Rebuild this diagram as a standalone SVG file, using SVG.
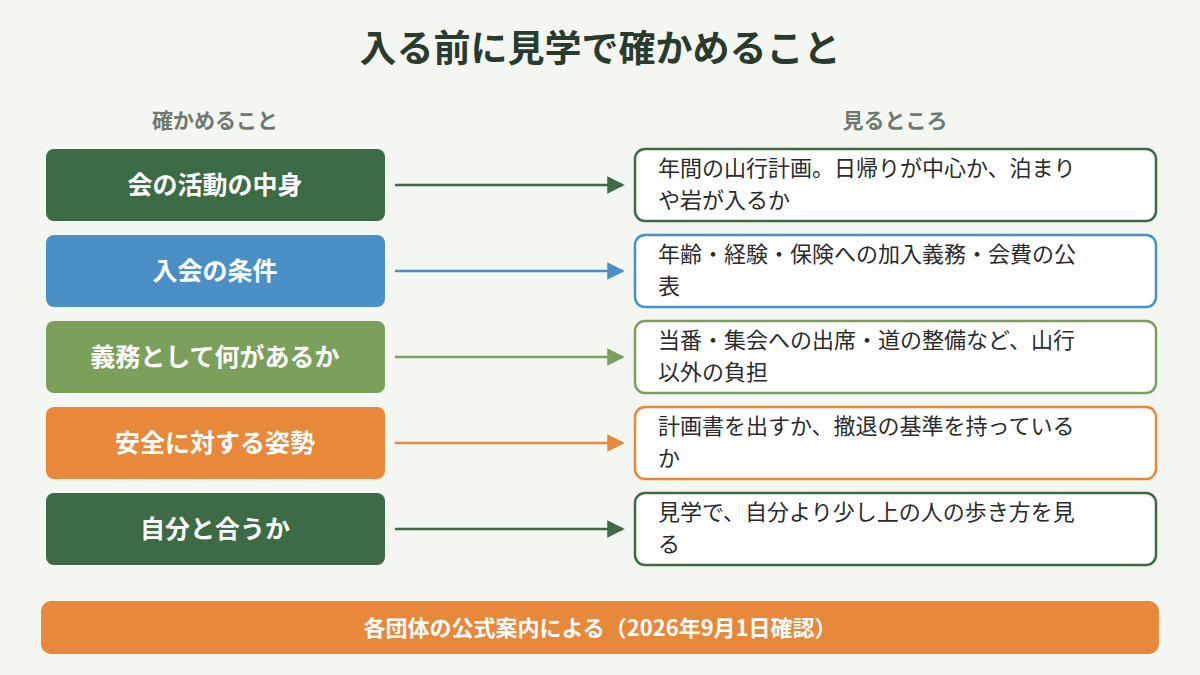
<svg xmlns="http://www.w3.org/2000/svg" width="1200" height="675" viewBox="0 0 1200 675">
<style>
text{font-family:"Noto Sans CJK JP","Noto Sans",sans-serif}
.t{font-size:37px;font-weight:bold;fill:#2b3a2e}
.h{font-size:21px;font-weight:bold;fill:#6e7a70}
.l{font-size:25px;font-weight:bold;fill:#fff}
.r{font-size:22px;fill:#2b2b2b}
.b{fill:#fff;stroke-width:2.5}
</style>
<defs>
<marker id="ag" viewBox="0 0 10 10" refX="9" refY="5" markerWidth="7" markerHeight="7" orient="auto"><path d="M0,0L10,5L0,10z" fill="#3d6b45"/></marker>
<marker id="ab" viewBox="0 0 10 10" refX="9" refY="5" markerWidth="7" markerHeight="7" orient="auto"><path d="M0,0L10,5L0,10z" fill="#4a90c6"/></marker>
<marker id="al" viewBox="0 0 10 10" refX="9" refY="5" markerWidth="7" markerHeight="7" orient="auto"><path d="M0,0L10,5L0,10z" fill="#7ba05b"/></marker>
<marker id="ao" viewBox="0 0 10 10" refX="9" refY="5" markerWidth="7" markerHeight="7" orient="auto"><path d="M0,0L10,5L0,10z" fill="#e8883a"/></marker>
</defs>
<rect width="1200" height="675" fill="#f4f6f1"/>
<text class="t" x="600" y="62" text-anchor="middle">入る前に見学で確かめること</text>
<text class="h" x="215" y="128" text-anchor="middle">確かめること</text>
<text class="h" x="895" y="128" text-anchor="middle">見るところ</text>
<g id="n1"><rect x="46" y="149" width="339" height="72" rx="8" fill="#3d6b45"/><text class="l" x="215" y="194" text-anchor="middle">会の活動の中身</text></g>
<g id="n2"><rect x="46" y="235" width="339" height="72" rx="8" fill="#4a90c6"/><text class="l" x="215" y="280" text-anchor="middle">入会の条件</text></g>
<g id="n3"><rect x="46" y="321" width="339" height="72" rx="8" fill="#7ba05b"/><text class="l" x="215" y="366" text-anchor="middle">義務として何があるか</text></g>
<g id="n4"><rect x="46" y="407" width="339" height="72" rx="8" fill="#e8883a"/><text class="l" x="215" y="452" text-anchor="middle">安全に対する姿勢</text></g>
<g id="n5"><rect x="46" y="493" width="339" height="72" rx="8" fill="#3d6b45"/><text class="l" x="215" y="538" text-anchor="middle">自分と合うか</text></g>
<g id="d1"><rect class="b" x="635" y="149" width="521" height="72" rx="10" stroke="#3d6b45"/><text class="r" x="658" y="176">年間の山行計画。日帰りが中心か、泊まり</text><text class="r" x="658" y="208">や岩が入るか</text></g>
<g id="d2"><rect class="b" x="635" y="235" width="521" height="72" rx="10" stroke="#4a90c6"/><text class="r" x="658" y="262">年齢・経験・保険への加入義務・会費の公</text><text class="r" x="658" y="294">表</text></g>
<g id="d3"><rect class="b" x="635" y="321" width="521" height="72" rx="10" stroke="#7ba05b"/><text class="r" x="658" y="348">当番・集会への出席・道の整備など、山行</text><text class="r" x="658" y="380">以外の負担</text></g>
<g id="d4"><rect class="b" x="635" y="407" width="521" height="72" rx="10" stroke="#e8883a"/><text class="r" x="658" y="434">計画書を出すか、撤退の基準を持っている</text><text class="r" x="658" y="466">か</text></g>
<g id="d5"><rect class="b" x="635" y="493" width="521" height="72" rx="10" stroke="#3d6b45"/><text class="r" x="658" y="520">見学で、自分より少し上の人の歩き方を見</text><text class="r" x="658" y="552">る</text></g>
<g id="connectors" stroke-width="2.5">
<line x1="395" y1="185" x2="623" y2="185" stroke="#3d6b45" marker-end="url(#ag)"/>
<line x1="395" y1="271" x2="623" y2="271" stroke="#4a90c6" marker-end="url(#ab)"/>
<line x1="395" y1="357" x2="623" y2="357" stroke="#7ba05b" marker-end="url(#al)"/>
<line x1="395" y1="443" x2="623" y2="443" stroke="#e8883a" marker-end="url(#ao)"/>
<line x1="395" y1="529" x2="623" y2="529" stroke="#3d6b45" marker-end="url(#ag)"/>
</g>
<g id="footer"><rect x="41" y="601" width="1118" height="53" rx="10" fill="#e8883a"/><text x="600" y="636" text-anchor="middle" style="font-size:22px;font-weight:bold;fill:#fff">各団体の公式案内による（2026年9月1日確認）</text></g>
</svg>
